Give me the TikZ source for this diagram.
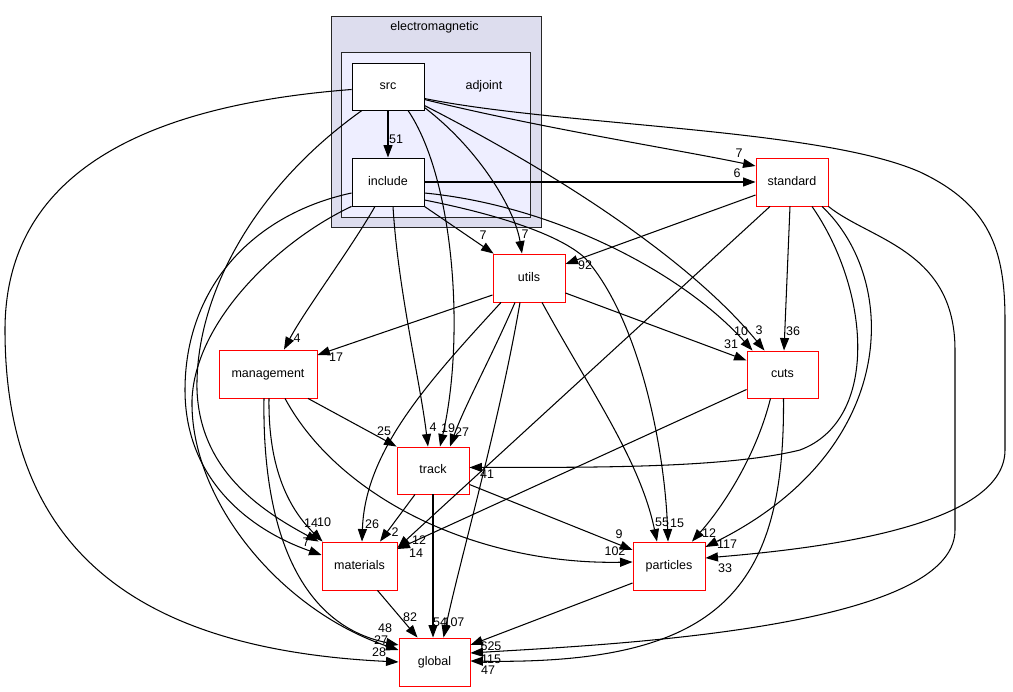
\documentclass[tikz,border=0pt]{standalone}
\usepackage{fontspec}
\setmainfont{Liberation Sans}
\usetikzlibrary{arrows.meta}
\definecolor{cOuter}{HTML}{DDDDEE}
\definecolor{cInner}{HTML}{EEEEFF}
\begin{document}
\begin{tikzpicture}[x=1pt,y=-1pt,
  every node/.style={font=\fontsize{12.5}{14}\selectfont},
  dirbox/.style={draw=black, fill=white, line width=0.9pt, minimum width=72pt, minimum height=48pt, inner sep=0pt, text height=9pt, text depth=2.5pt},
  rdir/.style={dirbox, draw=red},
  clus/.style={draw=black!85, line width=0.9pt, inner sep=0pt},
  dep/.style={-{Triangle[length=12.5pt,width=9pt]}, line width=1.05pt, black},
  lab/.style={inner sep=0pt}
]
\useasboundingbox (0,0) rectangle (1013,692);
% clusters
\node[clus, fill=cOuter, minimum width=210pt, minimum height=211pt] (cem) at (436,121.5) {};
\node[clus, fill=cInner, minimum width=189pt, minimum height=165pt] (cadj) at (435.5,134.5) {};
\node (temlab) at (434.5,27) {electromagnetic};
\node (tadjlab) at (484,86) {adjoint};
% directory nodes
\node[dirbox, minimum height=47pt] (src) at (388,86.5) {src};
\node[dirbox] (include) at (388,182) {include};
\node[rdir] (standard) at (792,182) {standard};
\node[rdir] (utils) at (529,278) {utils};
\node[rdir, minimum width=98pt] (management) at (268,374) {management};
\node[rdir, minimum width=71pt, minimum height=47pt] (cuts) at (782.5,374.5) {cuts};
\node[rdir, minimum height=47pt] (track) at (433,470.5) {track};
\node[rdir, minimum width=75pt] (materials) at (359.5,566) {materials};
\node[rdir] (particles) at (669,566) {particles};
\node[rdir, minimum width=71pt] (glob) at (434.5,662) {global};
% edges
\draw[dep] (src.south) -- (include.north);
\draw[dep] ([yshift=-13pt]src.east) .. controls (540,128) and (680,150) .. ([yshift=16pt]standard.west);
\draw[dep] (include.east) -- (standard.west);
\draw[dep] ([yshift=-12pt]src.east) .. controls (560,126) and (820,128) .. (920,172) .. controls (990,205) and (1005,250) .. (1005,320) -- (1005,450) .. controls (1005,530) and (800,550) .. ([yshift=8pt]particles.east);
\draw[dep] (include.south east) -- ([xshift=1pt]utils.north west);
\draw[dep] ([yshift=-21pt]src.east) .. controls (480,150) and (515,210) .. ([xshift=-7pt]utils.north);
\draw[dep] ([yshift=-19pt]src.east) .. controls (560,175) and (690,260) .. ([xshift=-18pt]cuts.north);
\draw[dep] ([yshift=-11pt]include.east) .. controls (550,205) and (680,270) .. ([xshift=-30pt]cuts.north);
\draw[dep] ([yshift=-18pt]include.east) .. controls (500,215) and (560,235) .. (585,258) .. controls (640,320) and (665,450) .. ([xshift=-1pt]particles.north);
\draw[dep] ([yshift=-15pt]utils.east) -- ([yshift=14pt]cuts.west);
\draw[dep] ([xshift=-2pt]standard.south) -- ([xshift=1.5pt]cuts.north);
\draw[dep] ([yshift=-13pt]standard.west) -- ([yshift=14pt]utils.east);
\draw[dep] ([xshift=-13pt]include.south) .. controls (350,250) and (305,310) .. ([xshift=16pt]management.north);
\draw[dep] ([yshift=-17pt]utils.west) -- ([yshift=19pt]management.east);
\draw[dep] ([xshift=5pt]include.south) .. controls (398,290) and (420,380) .. ([xshift=-5pt]track.north);
\draw[dep] ([xshift=20pt]src.south) .. controls (455,180) and (465,340) .. ([xshift=7pt]track.north);
\draw[dep] ([xshift=-14pt]utils.south) .. controls (490,360) and (465,405) .. ([xshift=17pt]track.north);
\draw[dep] ([xshift=40pt]management.south) -- (track.north west);
\draw[dep] ([xshift=20pt]standard.south) .. controls (870,290) and (880,420) .. (800,450) .. controls (720,470) and (560,467) .. ([yshift=3pt]track.east);
\draw[dep] ([xshift=-28pt]utils.south) .. controls (430,380) and (365,450) .. ([xshift=2.5pt]materials.north);
\draw[dep] ([xshift=-18pt]track.south) -- ([xshift=20.5pt]materials.north);
\draw[dep] ([xshift=1pt]management.south) .. controls (268,470) and (290,510) .. ([xshift=1pt]materials.north west);
\draw[dep] ([xshift=-26pt]src.south) .. controls (250,190) and (195,300) .. (197,390) .. controls (200,470) and (260,510) .. ([xshift=-3pt]materials.north west);
\draw[dep] ([yshift=-11pt]include.west) .. controls (250,215) and (185,290) .. (185,390) .. controls (185,480) and (250,530) .. ([yshift=11pt]materials.west);
\draw[dep] (include.south west) .. controls (280,240) and (195,320) .. (192,400) .. controls (190,500) and (280,610) .. ([yshift=12pt]glob.west);
\draw[dep] ([xshift=-4pt]management.south) .. controls (262,530) and (300,625) .. ([yshift=17pt]glob.west);
\draw[dep] ([yshift=-3pt]src.west) .. controls (150,105) and (5,170) .. (5,330) .. controls (5,560) and (150,650) .. (glob.west);
\draw[dep] ([xshift=18pt]materials.south) -- ([xshift=-17pt]glob.north);
\draw[dep] (track.south) -- ([xshift=-1.5pt]glob.north);
\draw[dep] ([xshift=-9pt]utils.south) .. controls (500,420) and (460,560) .. ([xshift=9pt]glob.north);
\draw[dep] ([yshift=-17pt]particles.west) -- ([yshift=17pt]glob.east);
\draw[dep] (standard.south east) .. controls (870,240) and (955,250) .. (955,350) -- (955,530) .. controls (955,630) and (600,645) .. ([yshift=9pt]glob.east);
\draw[dep] ([xshift=1pt]cuts.south) .. controls (785,590) and (720,665) .. ([yshift=1pt]glob.east);
\draw[dep] ([xshift=13pt]utils.south) .. controls (590,390) and (640,460) .. ([xshift=-12pt]particles.north);
\draw[dep] ([yshift=-14pt]track.east) -- ([yshift=16pt]particles.west);
\draw[dep] ([xshift=17pt]management.south) .. controls (340,500) and (480,565) .. ([yshift=4pt]particles.west);
\draw[dep] ([xshift=-12pt]cuts.south) .. controls (755,460) and (720,510) .. ([xshift=23pt]particles.north);
\draw[dep] ([xshift=30pt]standard.south) .. controls (900,280) and (900,450) .. ([yshift=19pt]particles.east);
\draw[dep] ([xshift=-22pt]standard.south) -- ([yshift=18pt]materials.east);
\draw[dep] ([yshift=-15pt]cuts.west) -- ([yshift=17pt]materials.east);
% labels
\node[lab] (l51) at (396,139) {51};
\node[lab] (l7a) at (739,153) {7};
\node[lab] (l6) at (737,173) {6};
\node[lab] (l7b) at (483,235) {7};
\node[lab] (l7c) at (525,234) {7};
\node[lab] (l92) at (585,265) {92};
\node[lab] (l10c) at (741,331) {10};
\node[lab] (l3) at (759,330) {3};
\node[lab] (l31) at (731,344) {31};
\node[lab] (l36) at (793,331) {36};
\node[lab] (l4m) at (297,338) {4};
\node[lab] (l17m) at (336,357) {17};
\node[lab] (l25) at (384,431) {25};
\node[lab] (l4t) at (433,427) {4};
\node[lab] (l19) at (448,428) {19};
\node[lab] (l27t) at (462,432) {27};
\node[lab] (l41) at (487,474) {41};
\node[lab] (l14a) at (311,523) {14};
\node[lab] (l10m) at (324,522) {10};
\node[lab] (l7m) at (306,542) {7};
\node[lab] (l26) at (372,524) {26};
\node[lab] (l2) at (395,532) {2};
\node[lab] (l12m) at (419,540) {12};
\node[lab] (l14m) at (416,553) {14};
\node[lab] (l82) at (410,617) {82};
\node[lab] (l54) at (440,622) {54};
\node[lab] (l107) at (454,622) {107};
\node[lab] (l48) at (385,628) {48};
\node[lab] (l27g) at (381,640) {27};
\node[lab] (l28) at (379,652) {28};
\node[lab] (l625) at (491,646) {625};
\node[lab] (l115) at (491,659) {115};
\node[lab] (l47) at (488,670) {47};
\node[lab] (l55) at (662,522) {55};
\node[lab] (l15) at (677,523) {15};
\node[lab] (l9) at (619,534) {9};
\node[lab] (l102) at (615,551) {102};
\node[lab] (l12p) at (709,533) {12};
\node[lab] (l117) at (727,544) {117};
\node[lab] (l33) at (725,568) {33};
\end{tikzpicture}
\end{document}
